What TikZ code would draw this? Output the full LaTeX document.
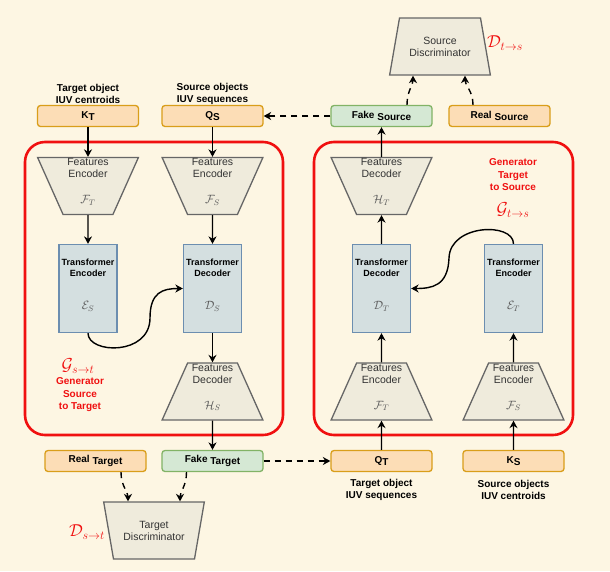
\documentclass[tikz,border=0pt]{standalone}
\usepackage{fontspec}
\setmainfont{Liberation Sans}
\usetikzlibrary{arrows.meta,shapes.geometric}
\definecolor{bgCream}{HTML}{FDF6E3}
\definecolor{inFill}{HTML}{FCDDB6}
\definecolor{inLine}{HTML}{D99E1A}
\definecolor{fakeFill}{HTML}{D5E8D4}
\definecolor{fakeLine}{HTML}{82B366}
\definecolor{trafoFill}{HTML}{D4DFE0}
\definecolor{trafoLine}{HTML}{6C8EB0}
\definecolor{trapFill}{HTML}{EFEBDC}
\definecolor{trapLine}{HTML}{666666}
\definecolor{genRed}{HTML}{F01010}
\tikzset{
    >={Stealth[length=7.5pt,width=8pt]},
    inbox/.style={rectangle,rounded corners=3pt,draw=inLine,fill=inFill,line width=1.3pt,minimum width=101pt,minimum height=21pt,inner sep=0pt,font=\fontsize{10}{12}\selectfont\bfseries},
    fakebox/.style={inbox,draw=fakeLine,fill=fakeFill},
    trafo/.style={rectangle,draw=trafoLine,fill=trafoFill,line width=1.3pt,minimum width=58pt,minimum height=88pt,inner sep=0pt,text depth=9pt,align=center,font=\fontsize{9}{11}\selectfont\bfseries},
    trap/.style={trapezium,trapezium stretches=true,trapezium angle=69,draw=trapLine,fill=trapFill,line width=1.3pt,minimum width=101pt,minimum height=57pt,inner sep=0pt,align=center,text=black!80,font=\fontsize{10.5}{12}\selectfont},
    widetop/.style={trap,shape border rotate=180},
    narrowtop/.style={trap},
    feat/.style={text depth=10pt},
    gen/.style={draw=genRed,line width=2.6pt,rounded corners=20pt},
    redtext/.style={text=genRed,align=center,font=\fontsize{10}{12.5}\selectfont\bfseries},
    redmath/.style={text=genRed,font=\fontsize{17.28}{20}\selectfont},
    caption/.style={align=center,font=\fontsize{10}{12}\selectfont\bfseries},
    flow/.style={->,line width=1.4pt},
    dflow/.style={->,line width=1.4pt,dash pattern=on 6pt off 5pt},
}
\newcommand{\Low}[1]{\raisebox{-2pt}{#1}}
\newcommand{\Sym}[1]{{\fontsize{12}{12}\selectfont\color{black!65}$#1$}}

\begin{document}
\begin{tikzpicture}[x=1pt,y=-1pt]
    \fill[bgCream] (0,0) rectangle (610,571);
    \useasboundingbox (0,0) rectangle (610,571);

    % generators
    \draw[gen] (25,142) rectangle (283,435);
    \draw[gen] (314,142) rectangle (573,435);

    % inputs and outputs
    \node[inbox] (kT) at (88,116) {K\Low{T}};
    \node[inbox] (qS) at (212.5,116) {Q\Low{S}};
    \node[fakebox] (fakeS) at (381.5,116) {Fake \Low{Source}};
    \node[inbox] (realS) at (499.5,116) {Real \Low{Source}};
    \node[inbox] (realT) at (95.5,461) {Real \Low{Target}};
    \node[fakebox] (fakeT) at (212.5,461) {Fake \Low{Target}};
    \node[inbox] (qT) at (381.5,461) {Q\Low{T}};
    \node[inbox] (kS) at (513.5,461) {K\Low{S}};

    \node[caption] (kTcap) at (88,94) {Target object\\IUV centroids};
    \node[caption] (qScap) at (212.5,94) {Source objects\\IUV sequences};
    \node[caption] (qTcap) at (381.5,490) {Target object\\IUV sequences};
    \node[caption] (kScap) at (513.5,490) {Source objects\\IUV centroids};

    % source to target
    \node[widetop,feat] (fT) at (88,186) {Features\\Encoder\\[14pt]\Sym{\mathcal{F}_T}};
    \node[widetop,feat] (fS) at (212.5,186) {Features\\Encoder\\[14pt]\Sym{\mathcal{F}_S}};
    \node[trafo] (encS) at (88,288.5) {Transformer\\Encoder\\[22pt]\Sym{\mathcal{E}_S}};
    \node[trafo] (decS) at (212.5,288.5) {Transformer\\Decoder\\[22pt]\Sym{\mathcal{D}_S}};
    \node[narrowtop,feat] (hS) at (212.5,391.5) {Features\\Decoder\\[14pt]\Sym{\mathcal{H}_S}};

    % target to source
    \node[widetop,feat] (hT) at (381.5,186) {Features\\Decoder\\[14pt]\Sym{\mathcal{H}_T}};
    \node[trafo] (decT) at (381.5,288.5) {Transformer\\Decoder\\[22pt]\Sym{\mathcal{D}_T}};
    \node[trafo] (encT) at (513.5,288.5) {Transformer\\Encoder\\[22pt]\Sym{\mathcal{E}_T}};
    \node[narrowtop,feat] (fTr) at (381.5,391.5) {Features\\Encoder\\[14pt]\Sym{\mathcal{F}_T}};
    \node[narrowtop,feat] (fSr) at (513.5,391.5) {Features\\Encoder\\[14pt]\Sym{\mathcal{F}_S}};

    % discriminators
    \node[narrowtop] (sDisc) at (440,46.5) {Source\\Discriminator};
    \node[widetop] (tDisc) at (154,530.5) {Target\\Discriminator};

    \node[redmath] (dTS) at (505,43) {$\mathcal{D}_{t\rightarrow s}$};
    \node[redmath] (dST) at (87,532) {$\mathcal{D}_{s\rightarrow t}$};
    \node[redmath] (gST) at (78,366) {$\mathcal{G}_{s\rightarrow t}$};
    \node[redmath] (gTS) at (513,210) {$\mathcal{G}_{t\rightarrow s}$};
    \node[redtext] (gSTtext) at (80,395) {Generator\\Source\\to Target};
    \node[redtext] (gTStext) at (513,175) {Generator\\Target\\to Source};

    \draw[flow] (kT) -- (fT);
    \draw[flow] (qS) -- (fS);
    \draw[flow] (fT) -- (encS);
    \draw[flow] (fS) -- (decS);
    \draw[flow] (decS) -- (hS);
    \draw[flow] (hS) -- (fakeT);
    \draw[flow] (encS.south) .. controls (88,354) and (150,356) .. (150,318)
        .. controls (150,292) and (163,288.5) .. (decS.west);

    \draw[flow] (qT) -- (fTr);
    \draw[flow] (kS) -- (fSr);
    \draw[flow] (fTr) -- (decT);
    \draw[flow] (fSr) -- (encT);
    \draw[flow] (decT) -- (hT);
    \draw[flow] (hT) -- (fakeS);
    \draw[flow] (encT.north) .. controls (513.5,222) and (450,224) .. (449,258)
        .. controls (448,286) and (432,288.5) .. (decT.east);

    \draw[dflow] (fakeT) -- (qT);
    \draw[dflow] (fakeS) -- (qS);
    \draw[dflow] ([xshift=25.5pt]realT.south) .. controls +(0,14) and +(0,-10) .. ([xshift=-26pt]tDisc.north);
    \draw[dflow] ([xshift=-26pt]fakeT.south) .. controls +(0,14) and +(0,-10) .. ([xshift=26pt]tDisc.north);
    \draw[dflow] ([xshift=25.5pt]fakeS.north) .. controls +(0,-14) and +(0,10) .. ([xshift=-27pt]sDisc.south);
    \draw[dflow] ([xshift=-26.5pt]realS.north) .. controls +(0,-14) and +(0,10) .. ([xshift=25pt]sDisc.south);
\end{tikzpicture}
\end{document}
